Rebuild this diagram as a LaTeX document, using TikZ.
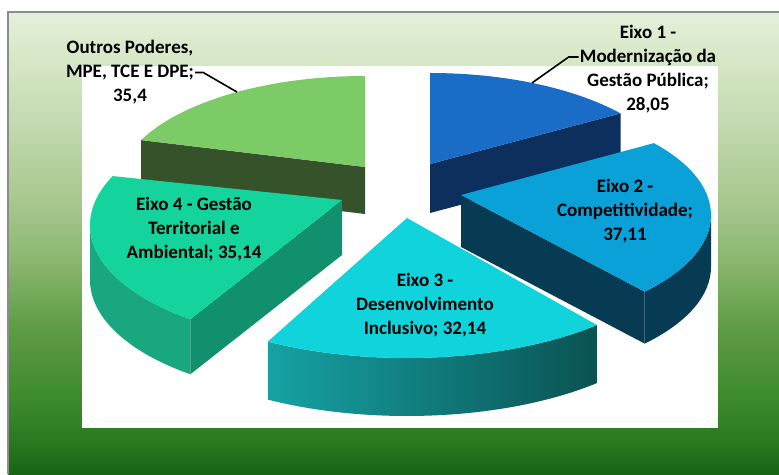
\documentclass[tikz,border=0pt]{standalone}
\usepackage{fontspec}
\setmainfont{Carlito}
\usetikzlibrary{calc}

\definecolor{framegray}{HTML}{8C8C8C}
\definecolor{bg0}{HTML}{1A6414}
\definecolor{bg1}{HTML}{2A7A20}
\definecolor{bg2}{HTML}{3C8A2C}
\definecolor{bg3}{HTML}{5E9A44}
\definecolor{bg4}{HTML}{8AB870}
\definecolor{bg5}{HTML}{A8C890}
\definecolor{bg6}{HTML}{C4DAB0}
\definecolor{bg7}{HTML}{D6E7C6}
\definecolor{bg8}{HTML}{E4F0DA}
\definecolor{s1top}{HTML}{1A6DC6}
\definecolor{s1side}{HTML}{0C2F5E}
\definecolor{s2top}{HTML}{0AA0D8}
\definecolor{s2side}{HTML}{063B53}
\definecolor{s3top}{HTML}{10D3DC}
\definecolor{s3sideL}{HTML}{16A2A4}
\definecolor{s3sideR}{HTML}{0B5252}
\definecolor{s4top}{HTML}{14D39C}
\definecolor{s4curve}{HTML}{19A77F}
\definecolor{s4side}{HTML}{10906C}
\definecolor{s5top}{HTML}{7CCB66}
\definecolor{s5side}{HTML}{35522A}

\pgfdeclareverticalshading{bggreen}{100bp}{color(0bp)=(bg0); color(25bp)=(bg0); color(28.7bp)=(bg1); color(33bp)=(bg2); color(40.6bp)=(bg3); color(48.2bp)=(bg4); color(54.7bp)=(bg5); color(63.3bp)=(bg6); color(69.8bp)=(bg7); color(75bp)=(bg8); color(100bp)=(bg8)}

\tikzset{
  lbl/.style={font=\fontsize{19}{24}\selectfont\bfseries, align=center, inner sep=1pt},
  leader/.style={line width=1.6pt},
}

\begin{document}
\begin{tikzpicture}[x=1pt,y=1pt]
  \useasboundingbox (0,0) rectangle (779,474);
  % background
  \shade[shading=bggreen] (8,0) rectangle (779,462);
  \draw[framegray, line width=2pt] (8,0) -- (8,462) -- (779,462);
  \fill[white] (82,46) rectangle (718,408);

  % apex of each slice and centre of its ellipse
  \coordinate (a1) at (430,310); \coordinate (c1) at (430,290);
  \coordinate (a2) at (461,279); \coordinate (c2) at (461,259);
  \coordinate (a3) at (407,256); \coordinate (c3) at (407,236);
  \coordinate (a4) at (342,274); \coordinate (c4) at (342,249);
  \coordinate (a5) at (365,307); \coordinate (c5) at (365,287);

  % Outros Poderes
  \fill[s5side] (a5) -- ([shift={(155:247 and 111)}]c5) -- ++(0,-47) -- ($(a5)+(0,-47)$) -- cycle;
  \fill[s5top] (a5) -- ([shift={(90:247 and 111)}]c5) arc[start angle=90, end angle=155, x radius=247, y radius=111] -- cycle;

  % Eixo 1
  \fill[s1side] (a1) -- ([shift={(39.5:247 and 111)}]c1) -- ++(0,-49) -- ($(a1)+(0,-49)$) -- cycle;
  \fill[s1top] (a1) -- ([shift={(90:247 and 111)}]c1) arc[start angle=90, end angle=39.5, x radius=247, y radius=111] -- cycle;

  % Eixo 4
  \fill[s4curve] ([shift={(180:252 and 118)}]c4) arc[start angle=180, end angle=233, x radius=252, y radius=118]
    -- ++(0,-55) arc[start angle=233, end angle=180, x radius=252, y radius=118] -- cycle;
  \fill[s4side] (a4) -- ([shift={(233:252 and 118)}]c4) -- ++(0,-55) -- ($(a4)+(0,-55)$) -- cycle;
  \fill[s4top] (a4) -- ([shift={(155.5:252 and 118)}]c4) arc[start angle=155.5, end angle=233, x radius=252, y radius=118] -- cycle;

  % Eixo 2
  \fill[s2side] ([shift={(0:250 and 113)}]c2) arc[start angle=0, end angle=-42.7, x radius=250, y radius=113]
    -- ++(0,-52) arc[start angle=-42.7, end angle=0, x radius=250, y radius=113] -- cycle;
  \fill[s2side] (a2) -- ([shift={(-42.7:250 and 113)}]c2) -- ++(0,-52) -- ($(a2)+(0,-52)$) -- cycle;
  \fill[s2top] (a2) -- ([shift={(39.5:250 and 113)}]c2) arc[start angle=39.5, end angle=-42.7, x radius=250, y radius=113] -- cycle;

  % Eixo 3
  \shade[left color=s3sideL, right color=s3sideR] ([shift={(-46.5:276 and 120)}]c3) arc[start angle=-46.5, end angle=-120.3, x radius=276, y radius=120]
    -- ++(0,-58) arc[start angle=-120.3, end angle=-46.5, x radius=276, y radius=120] -- cycle;
  \fill[s3top] (a3) -- ([shift={(-46.5:276 and 120)}]c3) arc[start angle=-46.5, end angle=-120.3, x radius=276, y radius=120] -- cycle;

  % labels
  \node[lbl] (lbl1) at (648,405) {Eixo 1 -\\Modernização da\\Gestão Pública;\\28,05};
  \node[lbl] (lbl2) at (625,262.5) {Eixo 2 -\\Competitividade;\\37,11};
  \node[lbl] (lbl3) at (425,168.5) {Eixo 3 -\\Desenvolvimento\\Inclusivo; 32,14};
  \node[lbl] (lbl4) at (194,244.5) {Eixo 4 - Gestão\\Territorial e\\Ambiental; 35,14};
  \node[lbl] (lbl5) at (130,401.5) {Outros Poderes,\\MPE, TCE E DPE;\\35,4};

  % leader lines
  \coordinate (p1) at ([shift={(65.6:247 and 111)}]c1);
  \coordinate (p5) at ([shift={(121.2:247 and 111)}]c5);
  \draw[leader] ([yshift=12pt]lbl1.west) -- ++(-10,0) -- (p1);
  \draw[leader] (lbl5.east) -- ++(8,0) -- (p5);
\end{tikzpicture}
\end{document}
